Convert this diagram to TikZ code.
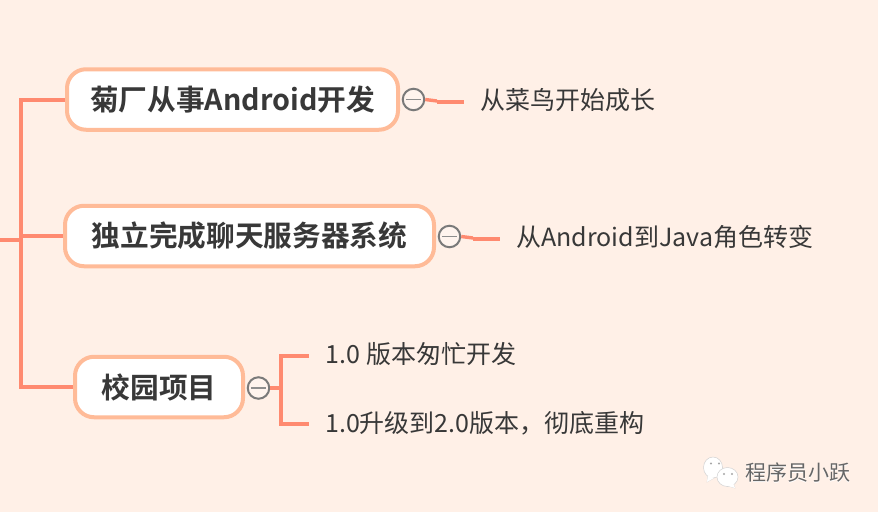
\documentclass[tikz,border=0pt]{standalone}
\usepackage{fontspec}
\setmainfont{Noto Sans CJK SC}
\newfontfamily\titlefont{Noto Sans CJK SC Bold}
\definecolor{bgc}{HTML}{FFF0E7}
\definecolor{boxline}{HTML}{FFBB98}
\definecolor{wire}{HTML}{FF8A70}
\definecolor{ink}{HTML}{383838}
\definecolor{knob}{HTML}{7A7A7A}
\tikzset{
  topicbox/.style={draw=boxline,line width=4pt,fill=white,rounded corners=19pt,inner sep=0pt,text=ink,
    font=\titlefont\fontsize{28.7}{32}\selectfont,minimum height=60.5pt},
  leaf/.style={anchor=west,inner sep=0pt,text=ink,font=\fontsize{25}{30}\selectfont},
  wireline/.style={draw=wire,line width=4pt},
  thinwire/.style={draw=wire,line width=3.4pt},
  knobc/.style={circle,draw=knob,line width=2pt,fill=bgc!70!white,minimum size=21.5pt,inner sep=0pt},
  knobbar/.style={draw=knob!85!white,line width=1.6pt},
  bubble/.style={fill=white,draw=black!18,line width=0.5pt},
  eye/.style={fill=black!35,draw=none}
}
\begin{document}
\begin{tikzpicture}[x=1pt,y=-1pt]
\useasboundingbox[fill=bgc] (0,0) rectangle (878,512);
\node[topicbox,minimum width=331pt] (b1) at (232.5,99.5) {菊厂从事Android开发};
\node[topicbox,minimum width=369pt] (b2) at (249.5,236) {独立完成聊天服务器系统};
\node[topicbox,minimum width=168pt] (b3) at (159,387) {校园项目};
\node[knobc] (c1) at (413.5,99.5) {};
\node[knobc] (c2) at (449.5,236.5) {};
\node[knobc] (c3) at (258.5,388) {};
\node[leaf] (l1) at (480,100.5) {从菜鸟开始成长};
\node[leaf] (l2) at (516,237) {从Android到Java角色转变};
\node[leaf] (l3) at (325,354.5) {1.0\hspace{1pt} 版本匆忙开发};
\node[leaf] (l4) at (325,423) {1.0升级到2.0版本，彻底重构};
\coordinate (root) at (0,240);
\coordinate (tr) at (21,240);
\coordinate (m1) at (437,101);
\coordinate (n1) at (437,102);
\coordinate (e1) at (464,102);
\coordinate (m2) at (473,238);
\coordinate (n2) at (473,239);
\coordinate (e2) at (500,239);
\coordinate (f3) at (281,388);
\coordinate (e3) at (309,356);
\coordinate (e4) at (309,424);
\draw[wireline] (root) -- (tr);
\draw[wireline] (b1.west) -| (tr);
\draw[wireline] (b3.west) -| (tr);
\draw[wireline] (b2.west) -- (b2.west -| tr);
\draw[thinwire] (c1.east) -- (m1);
\draw[thinwire] (n1) -- (e1);
\draw[thinwire] (c2.east) -- (m2);
\draw[thinwire] (n2) -- (e2);
\draw[wireline] (c3.east) -- (f3);
\draw[wireline] (e3) -- (e3 -| f3) -- (e4 -| f3) -- (e4);
\draw[knobbar] ([xshift=4pt]c1.west) -- ([xshift=-4pt]c1.east);
\draw[knobbar] ([xshift=4pt]c2.west) -- ([xshift=-4pt]c2.east);
\draw[knobbar] ([xshift=4pt]c3.west) -- ([xshift=-4pt]c3.east);
% watermark
\draw[bubble] (708,475) -- (707,482) -- (714,478) -- cycle;
\draw[bubble] (713,467.5) ellipse (9.5 and 10.5);
\fill[white] (708,475) -- (707,482) -- (714,478) -- cycle;
\draw[bubble] (733,483) -- (735,488) -- (728,486) -- cycle;
\draw[bubble] (727.5,477) ellipse (10.5 and 9.5);
\fill[white] (733,483) -- (735,488) -- (728,486) -- cycle;
\fill[eye] (711,463.5) circle (1.2);
\fill[eye] (719,463.5) circle (1.2);
\fill[eye] (724,474) circle (1.1);
\fill[eye] (732,474) circle (1.1);
\node[inner sep=0pt,text=white,font=\fontsize{21}{24}\selectfont] (wms) at (798,473.5) {程序员小跃};
\node[inner sep=0pt,text=black!60,font=\fontsize{21}{24}\selectfont] (wm) at (797.5,473) {程序员小跃};
\end{tikzpicture}
\end{document}
